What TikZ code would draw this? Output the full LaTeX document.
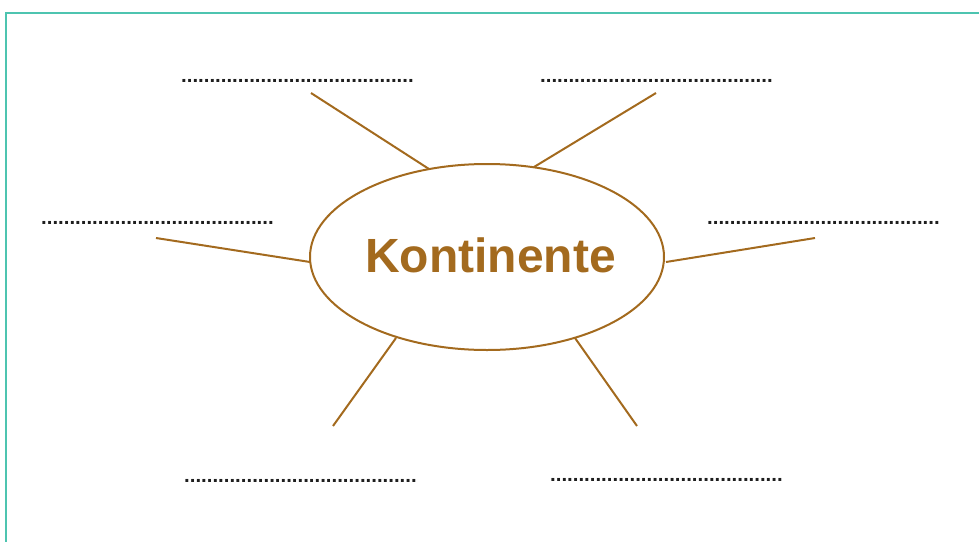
\documentclass[tikz,border=0pt]{standalone}
\usepackage{fontspec}
\setmainfont{Liberation Sans}
\usetikzlibrary{shapes.geometric}
\definecolor{frameteal}{RGB}{77,196,176}
\definecolor{brownish}{RGB}{163,106,30}
\definecolor{dotgray}{RGB}{30,30,30}
\tikzset{
  spoke/.style={draw=brownish, line width=2pt},
  blank/.style={anchor=base west, inner sep=0pt, text=dotgray, font=\fontsize{20.4}{24}\selectfont\bfseries},
}
\newcommand{\dotsline}{.........................................}
\begin{document}
\begin{tikzpicture}[x=1pt,y=-1pt]
\useasboundingbox (0,0) rectangle (979,541);
\draw[frameteal, line width=2pt] (6,560) -- (6,13) -- (1000,13);
\node[ellipse, draw=brownish, line width=2pt, minimum width=354pt, minimum height=186pt, inner sep=0pt] (k) at (487,257) {};
\node[anchor=base, inner sep=0pt, text=brownish, font=\fontsize{48}{50}\selectfont\bfseries] (kt) at (490.5,272) {Kontinente};
% blanks
\node[blank] (b1) at (181,82) {\dotsline};
\node[blank] (b2) at (540,82) {\dotsline};
\node[blank] (b3) at (41,224) {\dotsline};
\node[blank] (b4) at (707,224) {\dotsline};
\node[blank] (b5) at (184,482) {\dotsline};
\node[blank] (b6) at (550,481) {\dotsline};
% spoke ends
\coordinate (e1) at (311,93);
\coordinate (e2) at (656,93);
\coordinate (e3) at (156,238);
\coordinate (e4) at (815,238);
\coordinate (e5) at (333,426);
\coordinate (e6) at (637,426);
\coordinate (i1) at (429,169);
\coordinate (i2) at (534,167);
\coordinate (i3) at (310,262);
\coordinate (i4) at (666,262);
\coordinate (i5) at (396,338);
\coordinate (i6) at (575,338);
\draw[spoke] (i1) -- (e1);
\draw[spoke] (i2) -- (e2);
\draw[spoke] (i3) -- (e3);
\draw[spoke] (i4) -- (e4);
\draw[spoke] (i5) -- (e5);
\draw[spoke] (i6) -- (e6);
\end{tikzpicture}
\end{document}
